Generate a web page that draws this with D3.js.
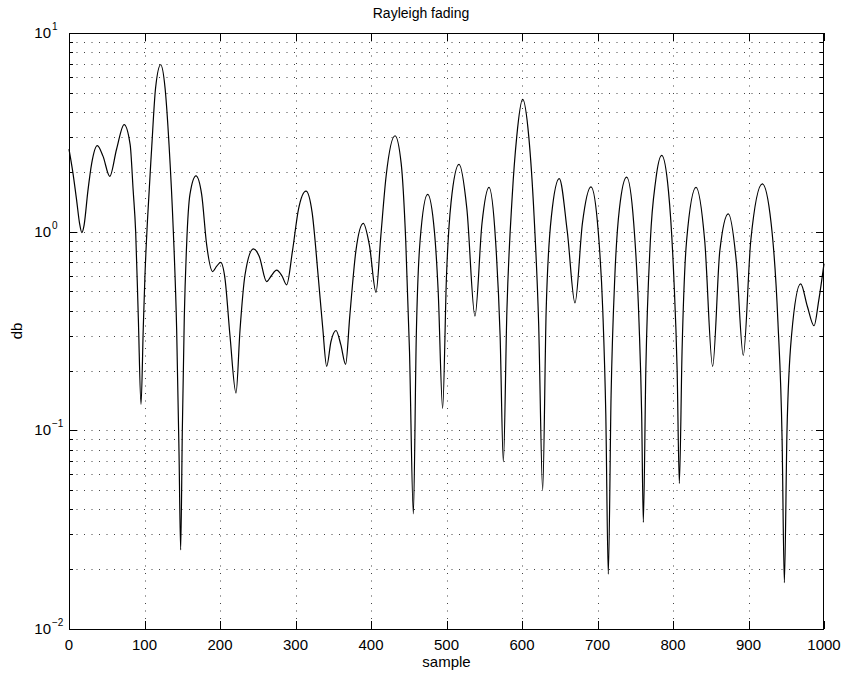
<!DOCTYPE html>
<html>
<head>
<meta charset="utf-8">
<script src="https://cdn.jsdelivr.net/npm/d3@7"></script>
<style>
body { margin: 0; background: #fff; }
text { font-family: "Liberation Sans", Arial, Helvetica, sans-serif; fill: #000; }
</style>
</head>
<body>
<svg id="chart" width="843" height="675"></svg>
<script>
// samples (peaks, dips and some flank points)
const sampleIdx = [
    0, 5, 10, 14, 17, 20, 25, 30, 37.5, 45, 54, 63, 73, 81, 85, 88.3, 91.8, 95.4, 98.4, 100.6,
    104, 109.4, 114.7, 121.4, 127.2, 132.5, 138.2, 142.6, 145.7, 147.9, 150.1, 152.7, 155.8, 160.2, 168.2,
    175.7, 182.3, 190.3, 195.6, 200.9, 206.6, 213.2, 221.2, 226.5, 233.1, 244.2, 252, 261.8, 268, 275,
    282, 288.3, 296, 304, 313.9, 322, 330, 336, 341.3, 347, 353.6, 360, 366.4, 372, 380, 389.8,
    398, 406.6, 413, 420, 431.8, 440, 446, 451, 456.1, 460, 465, 475, 484, 489, 494.9, 500,
    506, 516.6, 527, 537.7, 547, 556.3, 565, 571, 575.3, 580, 587, 593, 600.9, 609, 616, 622,
    627.4, 632, 639, 649.4, 660, 670.2, 680, 691.4, 701, 707, 711, 714.3, 718, 723, 729, 738.6,
    748, 755, 758.5, 760.7, 764, 770, 777, 785, 794, 801, 805.5, 808.4, 812, 818, 830.5, 842,
    852.5, 862, 873.3, 884, 893.1, 903, 918.3, 930, 939, 944.5, 947.5, 951, 957, 969.1, 978, 986.8,
    993, 1000
];
const fading = [
    2.6, 2.0, 1.45, 1.1, 0.99, 1.08, 1.6, 2.2, 2.71, 2.4, 1.9, 2.6, 3.46, 2.74, 1.61, 1.0, 0.37, 0.135, 0.33, 0.6,
    1.15, 2.6, 5.3, 6.92, 5.3, 2.74, 1.0, 0.32, 0.078, 0.025, 0.1, 0.37, 0.86, 1.54, 1.91,
    1.54, 0.86, 0.63, 0.67, 0.70, 0.58, 0.30, 0.154, 0.32, 0.605, 0.82, 0.75, 0.56, 0.6, 0.64,
    0.6, 0.54, 0.8, 1.3, 1.6, 1.25, 0.6, 0.33, 0.21, 0.28, 0.318, 0.27, 0.215, 0.38, 0.8, 1.10,
    0.85, 0.495, 0.95, 1.9, 3.04, 2.2, 0.9, 0.25, 0.038, 0.3, 0.9, 1.54, 1.0, 0.5, 0.129, 0.6,
    1.4, 2.18, 1.3, 0.376, 1.1, 1.67, 0.9, 0.3, 0.0695, 0.4, 1.5, 3.0, 4.63, 3.0, 1.2, 0.35,
    0.050, 0.4, 1.2, 1.85, 1.0, 0.438, 1.1, 1.68, 1.0, 0.4, 0.12, 0.0189, 0.15, 0.6, 1.3, 1.88,
    1.1, 0.35, 0.12, 0.0344, 0.2, 0.9, 1.8, 2.42, 1.6, 0.6, 0.2, 0.054, 0.25, 0.9, 1.67, 0.9,
    0.21, 0.8, 1.23, 0.7, 0.238, 0.9, 1.74, 1.1, 0.35, 0.09, 0.0171, 0.1, 0.3, 0.546, 0.42, 0.336,
    0.45, 0.69
];
const xTicks = [0, 100, 200, 300, 400, 500, 600, 700, 800, 900, 1000];
const yExponents = [1, 0, -1, -2];

const plotL = 69, plotR = 824, plotT = 33, plotB = 629;
const svg = d3.select("#chart");

const x = d3.scaleLinear().domain([0, 1000]).range([plotL, plotR]);
const y = d3.scaleLog().domain([0.01, 10]).range([plotB, plotT]);

// minor values for the log axis
const minorVals = [];
for (let e = -2; e < 1; e++)
    for (let m = 2; m <= 9; m++) minorVals.push(m * Math.pow(10, e));
const majorVals = yExponents.map(e => Math.pow(10, e));

const grid = svg.append("g")
    .attr("stroke", "#444")
    .attr("stroke-width", 1)
    .attr("stroke-dasharray", "1,6.5")
    .attr("fill", "none");

grid.selectAll("line.v")
    .data(xTicks.slice(1, -1))
    .join("line")
    .attr("x1", d => Math.round(x(d)) + 0.5).attr("x2", d => Math.round(x(d)) + 0.5)
    .attr("y1", plotT).attr("y2", plotB);

grid.selectAll("line.h")
    .data(minorVals.concat(majorVals.slice(1, -1)))
    .join("line")
    .attr("y1", d => Math.round(y(d)) + 0.5).attr("y2", d => Math.round(y(d)) + 0.5)
    .attr("x1", plotL).attr("x2", plotR);

// tick marks pointing inward on all four sides
const ticks = svg.append("g").attr("stroke", "#000").attr("stroke-width", 1);
xTicks.forEach(d => {
    const px = Math.round(x(d)) + 0.5;
    ticks.append("line").attr("x1", px).attr("x2", px).attr("y1", plotB).attr("y2", plotB - 8);
    ticks.append("line").attr("x1", px).attr("x2", px).attr("y1", plotT).attr("y2", plotT + 8);
});
majorVals.concat(minorVals).forEach(d => {
    const py = Math.round(y(d)) + 0.5;
    const len = majorVals.includes(d) ? 8 : 4;
    ticks.append("line").attr("x1", plotL).attr("x2", plotL + len).attr("y1", py).attr("y2", py);
    ticks.append("line").attr("x1", plotR).attr("x2", plotR - len).attr("y1", py).attr("y2", py);
});

// the curve
const line = d3.line()
    .x((d, i) => x(sampleIdx[i]))
    .y(d => y(d))
    .curve(d3.curveMonotoneX);

svg.append("path")
    .datum(fading)
    .attr("fill", "none")
    .attr("stroke", "#000")
    .attr("stroke-width", 1.2)
    .attr("stroke-linejoin", "round")
    .attr("d", line);

// frame
svg.append("rect")
    .attr("x", plotL + 0.5).attr("y", plotT + 0.5)
    .attr("width", plotR - plotL - 1).attr("height", plotB - plotT)
    .attr("fill", "none").attr("stroke", "#000").attr("stroke-width", 1);

// x tick labels
svg.append("g").selectAll("text")
    .data(xTicks)
    .join("text")
    .attr("x", d => x(d))
    .attr("y", 650)
    .attr("text-anchor", "middle")
    .attr("font-size", 15)
    .text(d => d);

// y tick labels 10^n
const yl = svg.append("g").selectAll("g")
    .data(yExponents)
    .join("g");
yl.append("text")
    .attr("x", 51)
    .attr("y", d => y(Math.pow(10, d)) + 5)
    .attr("text-anchor", "end")
    .attr("font-size", 15)
    .text("10");
yl.append("text")
    .attr("x", 52)
    .attr("y", d => y(Math.pow(10, d)) - 3)
    .attr("font-size", 10)
    .text(d => d < 0 ? "\u2212" + (-d) : d);

svg.append("text")
    .attr("x", 421).attr("y", 18)
    .attr("text-anchor", "middle").attr("font-size", 14)
    .text("Rayleigh fading");

svg.append("text")
    .attr("x", (plotL + plotR) / 2).attr("y", 667)
    .attr("text-anchor", "middle").attr("font-size", 15)
    .text("sample");

svg.append("text")
    .attr("transform", `translate(22,${(plotT + plotB) / 2}) rotate(-90)`)
    .attr("text-anchor", "middle").attr("font-size", 15)
    .text("db");
</script>
</body>
</html>
